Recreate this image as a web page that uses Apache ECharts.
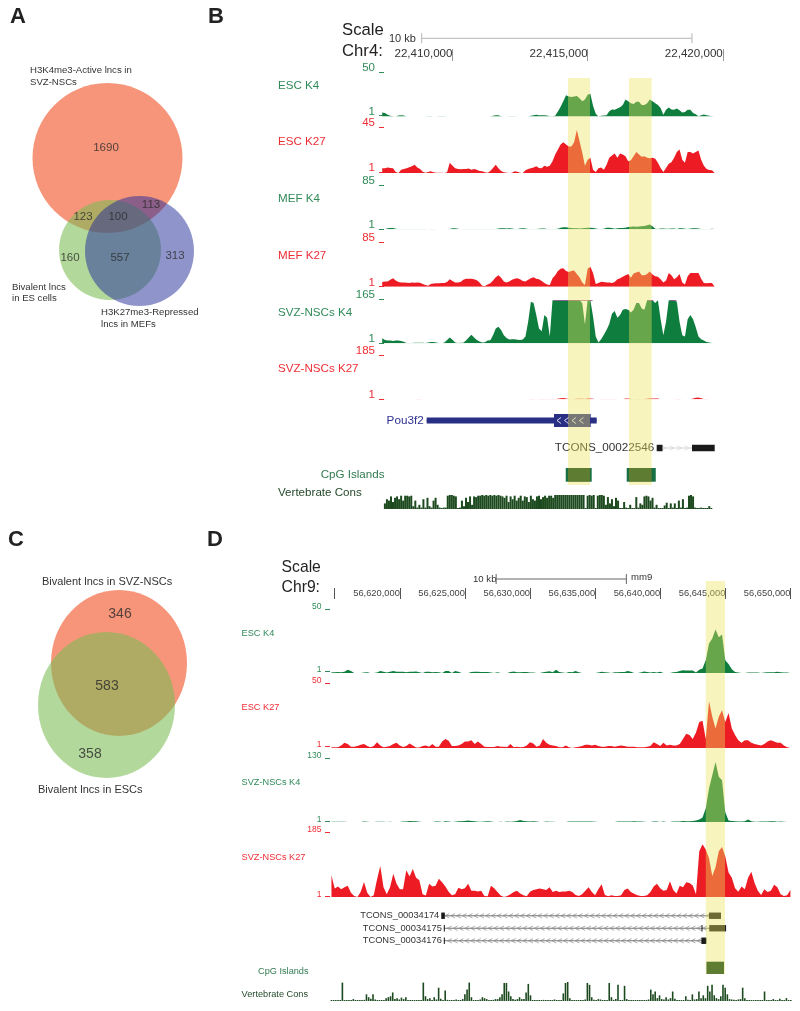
<!DOCTYPE html>
<html><head><meta charset="utf-8">
<style>html,body{margin:0;padding:0;background:#fff}#c{width:800px;height:1011px}</style>
<script src="https://cdn.jsdelivr.net/npm/echarts@6/dist/echarts.min.js"></script>
</head><body><div id="c"></div>
<script>
// ---------- Venn counts ----------
const vennACounts = [1690, 123, 100, 113, 160, 557, 313];
const vennCCounts = [346, 583, 358];

// ---------- Panel B signal tracks: one value per 100 bp from chr4:22,407,400 ----------
const bEscK4 = [
4.5,3.8,1.9,.8,.4,0,1.1,1.5,1.1,0, 0,0,0,0,0,0,0,.4,.4,0, 0,.4,.4,.4,0,0,0,0,0,0, 0,0,0,0,0,0,0,0,0,0,
0,.8,1.5,1.5,.4,0,0,.4,.4,.4, 0,0,0,0,0,.8,1.5,1.9,1.5,1.5, 1.5,1.1,.4,.4,.8,5.6,11,17,24,22.5,
22,22.5,23,20.6,17,19,24.4,25.5,12,3, 0,.8,1.1,1.5,6,8,7.5,9,10.5,13, 19,17,15,14,16.5,16.5,13,13,15,19,
17,15,13,9.5,2,7.5,10,8,7.5,9, 7,4.5,5,7.5,7.5,4,2.5,.4,1.5,2.3, 1.5,.8,.4,0];
const bEscK27 = [
4.6,4.6,5.3,5,4.6,1,0,3.3,4,4.6, 5.6,6.6,8,5.3,4,1.3,.3,1,1.6,.7, .3,.3,.3,0,.7,10,7,4.6,4,3.6, 4,4,4.3,3.3,4,3.3,2,1.6,.7,.3,
2,5,8,4.6,2,.7,.3,0,.3,1.6, 1.3,.3,0,2.6,4,4.6,5.3,6.6,5,4.6, 7.2,6,7.2,11.5,18,23,28,30,28,26,
26,30,42,31,20,7,13,15,3.3,1, 4.6,5.3,3.3,8,15,17,19,15,19,18, 16.5,11.5,12.5,16.5,20.5,18,16,16.5,15,14.5,
15,14,10,5,1,5,9,10.5,15,20.5, 23,13,10,20.5,20.5,19,20.5,22,13,7, 4,3,2.6,0];
const bMefK4 = [
0,0,2,2.6,2.6,1,.4,.4,.4,.4, .4,.6,.6,.6,.6,.4,.4,0,.4,.4, 0,0,0,0,0,.5,2,2,1,.3, .5,.5,.5,.5,.4,.4,.4,.4,.4,.4,
.4,.4,.4,1.3,2,2,1.5,2,1.5,.5, .5,1.5,2,1.3,.4,.4,.4,.4,1,1.3, 1.3,.5,.4,.4,.6,1,3,4,4,3,
2.5,2,2,1.5,2,2.5,3,3.2,2.5,1.5, .4,.6,1,3,3.2,2.5,1,2,2.6,2.6, 3,4.5,5,5.5,5,5.5,6,6.5,8,9,
6,1,.6,1.3,1.5,1,1,1.4,1.4,.6, 2,2,1,.5,1.5,2,2,1.6,.6,.4, .8,.6,1.2,.4];
const bMefK27 = [
9,10,10,13,16,12,9,8,8,7.5, 7,8,7.5,8,7.5,5,3,2,5,6, 6.5,6.5,7,7,9,14,11,8,8,9, 13,15,15,15,14,12.5,8,2,1.5,4,
6.5,12,18,22,17,10,8,10,13,15, 16,14,11,10,13,16,18,15,14,11, 7,4,3,16,22,30,34,35,30,28,
30,31,24,18,8,3,34,38,26,5, 7,9.5,9,8,8,7,9,14,16,19, 22,24,17,25,27,29,22,22,24,29,
23,20,19,14,8,12,26,22,14,18, 24,8,4,20,26,26,26,26,15,7, 6.5,7,7,0];
const bSvzK4 = [
19,12,10,10,9,10,10,9,6,1, 1,1,2,2.5,2,2,1.5,3,5,4.5, 3,1,0,3,12,22,13,3,1,2, 2,10,22,32,22,12,7,3,4,10,
11,30,55,62,50,30,20,14,15,15, 13,12,14,25,80,155,150,105,55,45, 105,95,25,160,160,160,160,160,160,160,
160,160,160,160,150,70,160,160,100,25, 3,15,32,50,72,110,120,95,105,125, 128,125,115,125,150,150,130,125,160,160,
160,150,160,90,30,80,160,160,160,155, 80,30,25,90,105,90,60,25,15,10, 5,3,1,0];
const bSvzK27 = [
1.5,1,0,0,0,0,0,0,0,0, 0,0,0,1,1,0,0,0,0,0, 0,0,0,0,0,0,0,0,0,0, 0,0,0,0,0,0,0,0,0,0,
0,0,0,0,0,0,0,0,0,0, 0,0,0,0,0,1,1,0,.8,.8, .8,.8,.8,.8,1,2,4,5,3,1,
.5,1.5,2,2,2,1,3,3,2,.5, 0,1.5,1.5,1.5,1.5,1.5,1.5,.5,.5,0, 3,3,1,.5,1.5,1.5,0,1,2,3,
3,3,3,.5,0,0,0,0,0,1.5, 1.5,0,0,0,0,3,6,7,4,1.5, 1,0,0,0];
// Vertebrate conservation, panel B: one value per 75 bp from chr4:22,407,500
const bCons = [
.4,.7,.6,.9,.5,.8,.9,.7,.95,.6,.95,.95,.9,.95, .2,.6,.1,.3,.1,.7,.1,.8,.2,.1,.6,.8,.3,.1, 0,.1,.1,
.95,1,1,.95,.9, 0,.1, .6,.2,.8,.5,.9,.3,.9,.85, .95,.95,1,.95,1,.95,1,.95,1,.95,1,.95,.9,
.8,.95,.5,.9,.7,.95,.6,.8,.95,.6,.9,.85,.5,.95,.7,.6,.9,.95,.7,.85,.95,.8,.95,.95,.8,
1,1,1,1,1,1,1,1,1,1,1,1,1,1,1, 0, .95,1,.95,1,0,.95,1,1,.95, .3,.85,.4,.7,.2,.8,.6,
.05,.05,.5,.1,.05,.3,.05,.05,.85,.1,.4, .3,.9,.95,.9,.6,.8, .1,.3,.05,.02,
.05,.25,.45,.05,.4,.1,.4,.05,.6,.1,.7,.05,.1, .95,1,.9, .1,.03,.03,.1,.03,.05,.03,.2,.03];

// ---------- Panel D signal tracks: one value per 250 bp from chr9:56,614,750 ----------
const dEscK4 = [
.5,.5,.8,.5,1,2.6,1.5,0,0,0, .4,.6,0,0,.4,1.5,1,.3,1,1.5, 1,1,1,.5,1,1,1.2,.6,0,1, 1,.5,.8,.5,0,1.5,1.5,0,1.5,1,
0,0,0,.8,1,1,.8,.8,.8,.4, 0,.6,0,0,0,.8,1.2,.6,.6,.8, .8,.4,.4,0,0,.5,1,1.4,.6,2.5, .8,.3,0,.8,.5,1.5,.6,0,0,0,
0,0,.4,1,.6,.3,0,.5,.5,.8, .8,1.5,1,0,0,.3,1.2,.8,.3,.8, .3,1,0,0,0,.5,.8,1.5,2.2,2,
2,2,.3,2.5,3.5,10,23,27,34,28, 30,10,7,3,.8,.4,0,0,.4,.4, .4,.4,0,.4,.5,.5,.5,1,.6,.3, .3,0];
const dEscK27 = [
.5,.5,.5,2,4,3,1,1,1.5,2.5, 3,1.5,.5,1.5,4.5,2,.5,1,1.5,3, 4,2,.8,1.5,3.5,2,.3,.3,1.5,2, 1,3,1,1,5,7,5.5,1.5,1.5,2,
3,5,5,6,3,5,3,1,.8,.8, .8,1.5,1,1,.8,3,.5,1,.5,.8, 2,4.5,3.5,1,2,7,4,2.5,2,1.5, .5,.5,2,.5,0,.5,1,1.5,2.5,2.5,
2,2.5,1.5,1,1,1.5,1.5,1,1.5,2, 1.5,1,1,1,.5,.5,.5,1,1.5,4.5, 3,1.5,4,2,2.5,2,2,3,7,11,
10,7,12,20,21,7,36,24,15,24, 29,20,27,15,10,6,4,6,6,4, 3,2.5,2,3,5,6,5,4,4,2, .5,.3];
const dSvzK4 = [
.7,.7,.7,.7,.7,0,0,0,0,0, 1,.7,0,0,.7,.7,.7,0,.7,0, 0,0,1,1,2,1.5,1.5,.7,0,0, 0,0,1,1,0,1.5,1,0,.7,1.5,
1.5,2,3,2,1.5,.7,.5,1,1.5,1, 0,0,.7,0,1,.7,1,2,4,2, 1.5,1,1.5,1,0,0,1,.7,.7,0, 0,0,0,1,1,1,1,1,1,1,
1,.7,0,0,0,0,0,0,1,1, 1,1,1,1.5,1,1,.5,0,0,1, 1,0,1,0,0,1,1,1,2,1.5,
1.5,2,3,5,9,28,68,95,122,92, 85,20,3,2,1.5,1,1,1.5,5,1.5, .7,.7,1,1,1,1.5,1.5,.7,1,.5, 0,0];
const dSvzK27 = [
62,24,30,22,28,32,12,3,0,15, 43,12,0,5,50,88,28,8,28,66, 38,22,22,76,58,80,55,48,8,4, 38,30,32,52,42,30,15,5,8,26,
22,25,38,18,18,16,18,3,2,32, 25,14,4,0,3,8,14,18,10,5, 2,15,20,22,24,22,20,28,14,18, 14,16,16,18,14,6,3,8,18,28,
14,5,22,36,6,2,5,3,3,5, 20,24,14,9,5,3,3,5,14,30, 38,25,18,20,45,20,10,32,28,42,
40,33,8,130,150,135,110,60,85,130, 142,115,70,55,25,15,30,22,55,72, 40,18,6,22,14,18,35,28,8,3, 5,20];
// Vertebrate conservation, panel D: one value per 168 bp from chr9:56,614,750
const dCons = [
.02,.02,.02,.03,.03,.97,.05,.02,.02,.02, .1,.02,.02,.03,.02,.06,.35,.2,.12,.35, .08,.03,.03,.05,.05,.15,.2,.25,.45,.1,
.15,.08,.18,.1,.2,.03,.02,.05,.02,.02, .03,.03,.97,.25,.1,.15,.05,.2,.08,.7, .12,.05,.55,.06,.03,.05,.05,.08,.03,.05,
.1,.35,.6,.97,.2,.03,.03,.04,.08,.2, .15,.1,.04,.03,.06,.1,.1,.2,.35,.95, .95,.5,.25,.1,.06,.1,.2,.1,.1,.45,
.9,.3,.03,.05,.04,.03,.05,.06,.05,.03, .03,.02,.08,.05,.03,.05,.4,.95,1,.15, .05,.03,.02,.03,.03,.05,.08,.95,.85,.2,
.06,.04,.1,.08,.05,.03,.05,.95,.2,.06, .1,.85,.05,.04,.8,.1,.04,.03,.03,.03, .04,.05,.03,.02,.05,.08,.6,.35,.5,.15,
.3,.1,.08,.2,.08,.15,.5,.12,.04,.03, .05,.03,.25,.06,.03,.35,.08,.1,.5,.15, .3,.15,.8,.5,.85,.3,.15,.1,.25,.85,
.7,.35,.1,.08,.06,.05,.08,.1,.7,.15, .03,.05,.03,.03,.05,.03,.04,.03,.5,.05, .03,.03,.1,.03,.05,.12,.04,.03,.15,.03, .03];

// ---------- Genomic annotations ----------
const bTicks = [22410000, 22415000, 22420000];
const dTicks = [56615000, 56620000, 56625000, 56630000, 56635000, 56640000, 56645000, 56650000];
const bScaleBar = [22408860, 22418860];
const dScaleBar = [56627400, 56637400];
const bHighlights = [[22414273, 22415087], [22416530, 22417370]];
const dHighlights = [[56643500, 56644980]];
const bCpG = [[22414190, 22415150], [22416445, 22417520]];
const dCpG = [[56643550, 56644900]];
const bSvzK4Clipped = [[22413767, 22415185], [22417220, 22417430], [22418050, 22418290]];
const bGenes = [
  {name:'Pou3f2', span:[22409045,22415335], exons:[[22409045,22415335,0],[22413755,22415113,1]]},
  {name:'TCONS_00022546', span:[22417555,22419700], exons:[[22417555,22417770,0],[22418860,22419700,0]]}
];
const dGenes = [
  {name:'TCONS_00034174', span:[56623185,56644670], exons:[[56623185,56623460,0],[56643750,56644670,0]]},
  {name:'TCONS_00034175', span:[56623380,56645060], exons:[[56623380,56623460,0],[56643170,56643250,0],[56643770,56645060,0]]},
  {name:'TCONS_00034176', span:[56623380,56643550], exons:[[56623380,56623460,0],[56643160,56643550,0]]}
];

// ---------- Styles and layout ----------
const FONT = '"Liberation Sans",Arial,sans-serif';
const GREEN='#0F7D3E', RED='#ED1C24', GLAB='#2F8A58', RLAB='#EE2D34', CONS='#1C4A1E', CPG='#167043', CPGIN='#003916';
const YELLOW='rgba(235,227,92,0.4)';
const bX = {min:22407400, max:22420100, left:382.2, width:343.3};
const dX = {min:56614750, max:56650250, left:331.45, width:462.2};
const bTracks = [
 {d:bEscK4, max:50, top:72, base:116.5, c:GREEN, l:GLAB},
 {d:bEscK27,max:45, top:127,base:173,   c:RED,   l:RLAB},
 {d:bMefK4, max:85, top:185,base:229.3, c:GREEN, l:GLAB},
 {d:bMefK27,max:85, top:242,base:286.7, c:RED,   l:RLAB},
 {d:bSvzK4, max:165,top:299,base:343.3, c:GREEN, l:GLAB},
 {d:bSvzK27,max:185,top:355,base:399.3, c:RED,   l:RLAB}];
const dTracks = [
 {d:dEscK4, max:50, top:609,base:673, c:GREEN, l:GLAB},
 {d:dEscK27,max:50, top:683,base:748, c:RED,   l:RLAB},
 {d:dSvzK4, max:130,top:758,base:822, c:GREEN, l:GLAB},
 {d:dSvzK27,max:185,top:832,base:897, c:RED,   l:RLAB}];

const grids=[], xAxes=[], yAxes=[], series=[];
function addGrid(X, top, height, xExtra, yExtra){
  const i=grids.length;
  grids.push({left:X.left, width:X.width, top, height, containLabel:false});
  xAxes.push(Object.assign({type:'value',gridIndex:i,min:X.min,max:X.max,show:false,scale:true,splitLine:{show:false}},xExtra||{}));
  yAxes.push(Object.assign({type:'value',gridIndex:i,min:0,max:1,show:false,splitLine:{show:false}},yExtra||{}));
  return i;
}
function addTrack(X,t,start,step,fs,off,margin){
  const i=addGrid(X,t.top,t.base-t.top,null,{
    show:true,max:t.max,offset:off,
    axisLine:{show:false},
    axisTick:{show:true,length:5,customValues:[1,t.max],lineStyle:{color:t.l,width:1}},
    axisLabel:{show:true,customValues:[1,t.max],color:t.l,fontSize:fs,fontFamily:FONT,verticalAlign:'bottom',lineHeight:fs-4,margin}
  });
  series.push({type:'line',xAxisIndex:i,yAxisIndex:i,showSymbol:false,silent:true,animation:false,z:3,
    lineStyle:{width:0},itemStyle:{color:t.c},areaStyle:{color:t.c,opacity:1},
    data:t.d.map((v,k)=>[start+k*step,v])});
}
function addCons(X,data,start,step,top,height,bw){
  const i=addGrid(X,top,height);
  series.push({type:'bar',xAxisIndex:i,yAxisIndex:i,barWidth:bw,barMinHeight:1,silent:true,animation:false,z:3,
    itemStyle:{color:CONS},data:data.map((v,k)=>[start+k*step,v])});
}
function addBands(X,bands,top,height,color,z){
  const i=addGrid(X,top,height);
  series.push({type:'custom',xAxisIndex:i,yAxisIndex:i,silent:true,animation:false,z,
    data:bands.map(b=>[b[0],b[1]]),encode:{x:[0,1]},clip:false,
    renderItem(p,api){
      const a=api.coord([api.value(0),1]), b=api.coord([api.value(1),0]);
      return {type:'rect',shape:{x:a[0],y:a[1],width:b[0]-a[0],height:b[1]-a[1]},style:{fill:color}};
    }});
}
function overlap(as,bs){
  const out=[];
  as.forEach(a=>bs.forEach(b=>{const s=Math.max(a[0],b[0]),e=Math.min(a[1],b[1]); if(s<e) out.push([s,e]);}));
  return out;
}
function addScale(X,bar,top,color){
  const i=addGrid(X,top,10);
  series.push({type:'custom',xAxisIndex:i,yAxisIndex:i,silent:true,animation:false,z:3,clip:false,
    data:[[bar[0],bar[1]]],encode:{x:[0,1]},
    renderItem(p,api){
      const a=api.coord([api.value(0),.5]), b=api.coord([api.value(1),.5]);
      const st={stroke:color,lineWidth:1,fill:null};
      return {type:'group',children:[
        {type:'line',shape:{x1:a[0],y1:a[1],x2:b[0],y2:b[1]},style:st},
        {type:'line',shape:{x1:a[0],y1:a[1]-5,x2:a[0],y2:a[1]+5},style:st},
        {type:'line',shape:{x1:b[0],y1:a[1]-5,x2:b[0],y2:a[1]+5},style:st}]};
    }});
}
function addTopAxis(X,ticks,top,tickLen,fs,tickColor,textColor,blank){
  addGrid(X,top,1,{show:true,position:'top',axisLine:{show:false},
    axisTick:{show:true,customValues:ticks,length:tickLen,lineStyle:{color:tickColor,width:1}},
    axisLabel:{show:true,customValues:ticks,align:'right',margin:0,color:textColor,fontSize:fs,fontFamily:FONT,
      hideOverlap:false,showMinLabel:true,showMaxLabel:true,
      formatter:v=>v===blank?'':String(v).replace(/\B(?=(\d{3})+$)/g,',')}});
}
function addGenes(X,genes,top,height,opt){
  const i=addGrid(X,top,height,null,{type:'category',data:genes.map(g=>g.name),inverse:true,min:undefined,max:undefined});
  series.push({type:'custom',xAxisIndex:i,yAxisIndex:i,silent:true,animation:false,z:3,clip:false,
    data:genes.map((g,k)=>[g.span[0],k]),encode:{x:0,y:1},
    renderItem(p,api){
      const k=api.value(1), g=genes[k], st=opt[k];
      const y=api.coord([g.span[0],k])[1], px=v=>api.coord([v,k])[0];
      const kids=[];
      const x1=px(g.span[0]), x2=px(g.span[1]);
      kids.push({type:'line',shape:{x1,y1:y,x2,y2:y},style:{stroke:st.line,lineWidth:1}});
      for(let c=x1+st.step;c<x2-2;c+=st.step){
        const d=st.dir*2.2;
        kids.push({type:'polyline',shape:{points:[[c-d,y-2.2],[c+d,y],[c-d,y+2.2]]},style:{stroke:st.chev||st.line,fill:null,lineWidth:.7}});
      }
      g.exons.forEach(e=>{
        const h=e[2]?st.tall:st.h, a=px(e[0]), b=px(e[1]);
        kids.push({type:'rect',shape:{x:a,y:y-h/2,width:b-a,height:h},style:{fill:st.exon}});
      });
      if(st.inner){ // white direction marks inside the coding block
        const e=g.exons[1], a=px(e[0]), b=px(e[1]);
        for(let c=a+5;c<b-2;c+=st.innerStep){
          kids.push({type:'polyline',shape:{points:[[c+2,y-3],[c-2,y],[c+2,y+3]]},style:{stroke:'#e8e8f4',fill:null,lineWidth:.9}});
        }
      }
      kids.push({type:'text',x:x1-st.gap,y:y,style:{text:g.name,fill:st.text,font:st.fs+'px '+FONT,align:'right',verticalAlign:'middle'}});
      return {type:'group',children:kids};
    }});
}

// ---------- Venn diagrams: a plain grid in page units ----------
const vennShapes = [ // [cx, cy, rx, ry, colour]
 [107.5,158,75,75,'rgba(240,84,40,0.62)'],
 [110,250,51,50,'rgba(124,188,84,0.58)'],
 [139.5,251,54.5,55,'rgba(31,41,151,0.5)'],
 [119,663,68,73,'rgba(240,84,40,0.62)'],
 [106.5,705,68.5,73,'rgba(124,188,84,0.58)']];
const vennA = [[106,148],[83,217],[118,217],[151,205],[70,258],[120,258],[175,256]];
const vennC = [[120,614],[107,686],[90,754]];
(function(){
  const i=grids.length;
  grids.push({left:0,top:0,width:220,height:1011});
  xAxes.push({type:'value',gridIndex:i,min:0,max:220,show:false});
  yAxes.push({type:'value',gridIndex:i,min:0,max:1011,inverse:true,show:false});
  series.push({type:'custom',xAxisIndex:i,yAxisIndex:i,silent:true,animation:false,z:2,clip:false,
    data:vennShapes.map((s,k)=>[s[0],s[1],k]),encode:{x:0,y:1},
    renderItem(p,api){
      const s=vennShapes[api.value(2)], c=api.coord([s[0],s[1]]), sz=api.size([s[2],s[3]]);
      return {type:'ellipse',shape:{cx:c[0],cy:c[1],rx:sz[0],ry:sz[1]},style:{fill:s[4]}};
    }});
  const lab=(pos,counts,fs)=>series.push({type:'scatter',xAxisIndex:i,yAxisIndex:i,symbolSize:0,silent:true,animation:false,z:5,
    label:{show:true,position:'inside',formatter:q=>q.data[2],color:'#2b2b2b',fontSize:fs,fontFamily:FONT},
    data:pos.map((q,k)=>[q[0],q[1],counts[k]])});
  lab(vennA,vennACounts,11.5); lab(vennC,vennCCounts,14);
})();

// ---------- Assemble panel B ----------
addTopAxis(bX,bTicks,60,12,11.6,'#999','#333',null);
addScale(bX,bScaleBar,33.3,'#b5b5b5');
bTracks.forEach(t=>addTrack(bX,t,22407400,100,11.5,-1.8,9));
addBands(bX,bSvzK4Clipped,300.2,.8,'#9A4F9A',4);
addGenes(bX,bGenes,406.75,55,[
 {line:'#2A2F86',step:1e4,dir:-1,h:6.2,tall:13,exon:'#2A2F86',text:'#2E3192',fs:11.7,gap:3,inner:true,innerStep:7.5},
 {line:'#d4d4d4',step:7.5,dir:1,h:6.5,tall:6.5,exon:'#1a1a1a',text:'#333',fs:11.7,gap:2.5}]);
addBands(bX,bCpG,468,13.7,CPG,3);
addBands(bX,overlap(bCpG,bHighlights),468,13.7,CPGIN,4);
addCons(bX,bCons,22407500,75,495,14,2);
addBands(bX,bHighlights,78,407,YELLOW,10);

// ---------- Assemble panel D ----------
addTopAxis(dX,dTicks,598,11,9.3,'#555','#444',56615000);
addScale(dX,dScaleBar,574,'#666');
dTracks.forEach(t=>addTrack(dX,t,56614750,250,8.5,1.45,8.5));
addGenes(dX,dGenes,909.5,37.5,[0,1,2].map(()=>({line:'#777',chev:'#8a8a8a',step:5.8,dir:-1,h:6.4,tall:6.4,exon:'#1a1a1a',text:'#333',fs:9.3,gap:2})));
addBands(dX,dCpG,961.7,12.3,CPGIN,3);
addCons(dX,dCons,56614750,168,982,19,1.6);
addBands(dX,dHighlights,581,393,YELLOW,10);

// ---------- Text ----------
const texts = [
 ['A',10,17,22,'#222',1],['B',208,17,22,'#222',1],['C',8,540,22,'#222',1],['D',207,540,22,'#222',1],
 ['H3K4me3-Active lncs in',30,70,9.6,'#333'],['SVZ-NSCs',30,82,9.6,'#333'],
 ['Bivalent lncs',12,287,9.6,'#333'],['in ES cells',12,298,9.6,'#333'],
 ['H3K27me3-Repressed',101,312,9.6,'#333'],['lncs in MEFs',101,324,9.6,'#333'],
 ['Bivalent lncs in SVZ-NSCs',42,582,11,'#333'],['Bivalent lncs in ESCs',38,790,11,'#333'],
 ['Scale',342,30,16.7,'#222'],['Chr4:',342,51,16.7,'#222'],['10 kb',389,39,11,'#333'],
 ['ESC K4',278,86,11.6,GLAB],['ESC K27',278,142,11.6,RLAB],['MEF K4',278,199,11.6,GLAB],
 ['MEF K27',278,256,11.6,RLAB],['SVZ-NSCs K4',278,312.7,11.6,GLAB],['SVZ-NSCs K27',278,369,11.6,RLAB],
 ['CpG Islands',320.7,475,11.6,'#2F7A4F'],['Vertebrate Cons',278,492.7,11.6,'#24482A'],
 ['Scale',281.6,568,15.7,'#222'],['Chr9:',281.6,588,15.7,'#222'],['10 kb',473,579,9.6,'#333'],['mm9',631,577,9.6,'#333'],
 ['ESC K4',241.6,633,9.2,GLAB],['ESC K27',241.6,707.7,9.2,RLAB],['SVZ-NSCs K4',241.6,782,9.2,GLAB],['SVZ-NSCs K27',241.6,857,9.2,RLAB],
 ['CpG Islands',258,971,9.2,'#2F7A4F'],['Vertebrate Cons',241.6,994,9.2,'#24482A']
];
const graphic = texts.map(t=>({type:'text',x:t[1],y:t[2],silent:true,z:1,
  style:{text:t[0],fill:t[4],font:(t[5]?'bold ':'')+t[3]+'px '+FONT,align:'left',verticalAlign:'middle'}}));

const chart = echarts.init(document.getElementById('c'),null,{renderer:'canvas'});
chart.setOption({animation:false,backgroundColor:'#fff',tooltip:{show:false},grid:grids,xAxis:xAxes,yAxis:yAxes,series,graphic});
</script></body></html>
